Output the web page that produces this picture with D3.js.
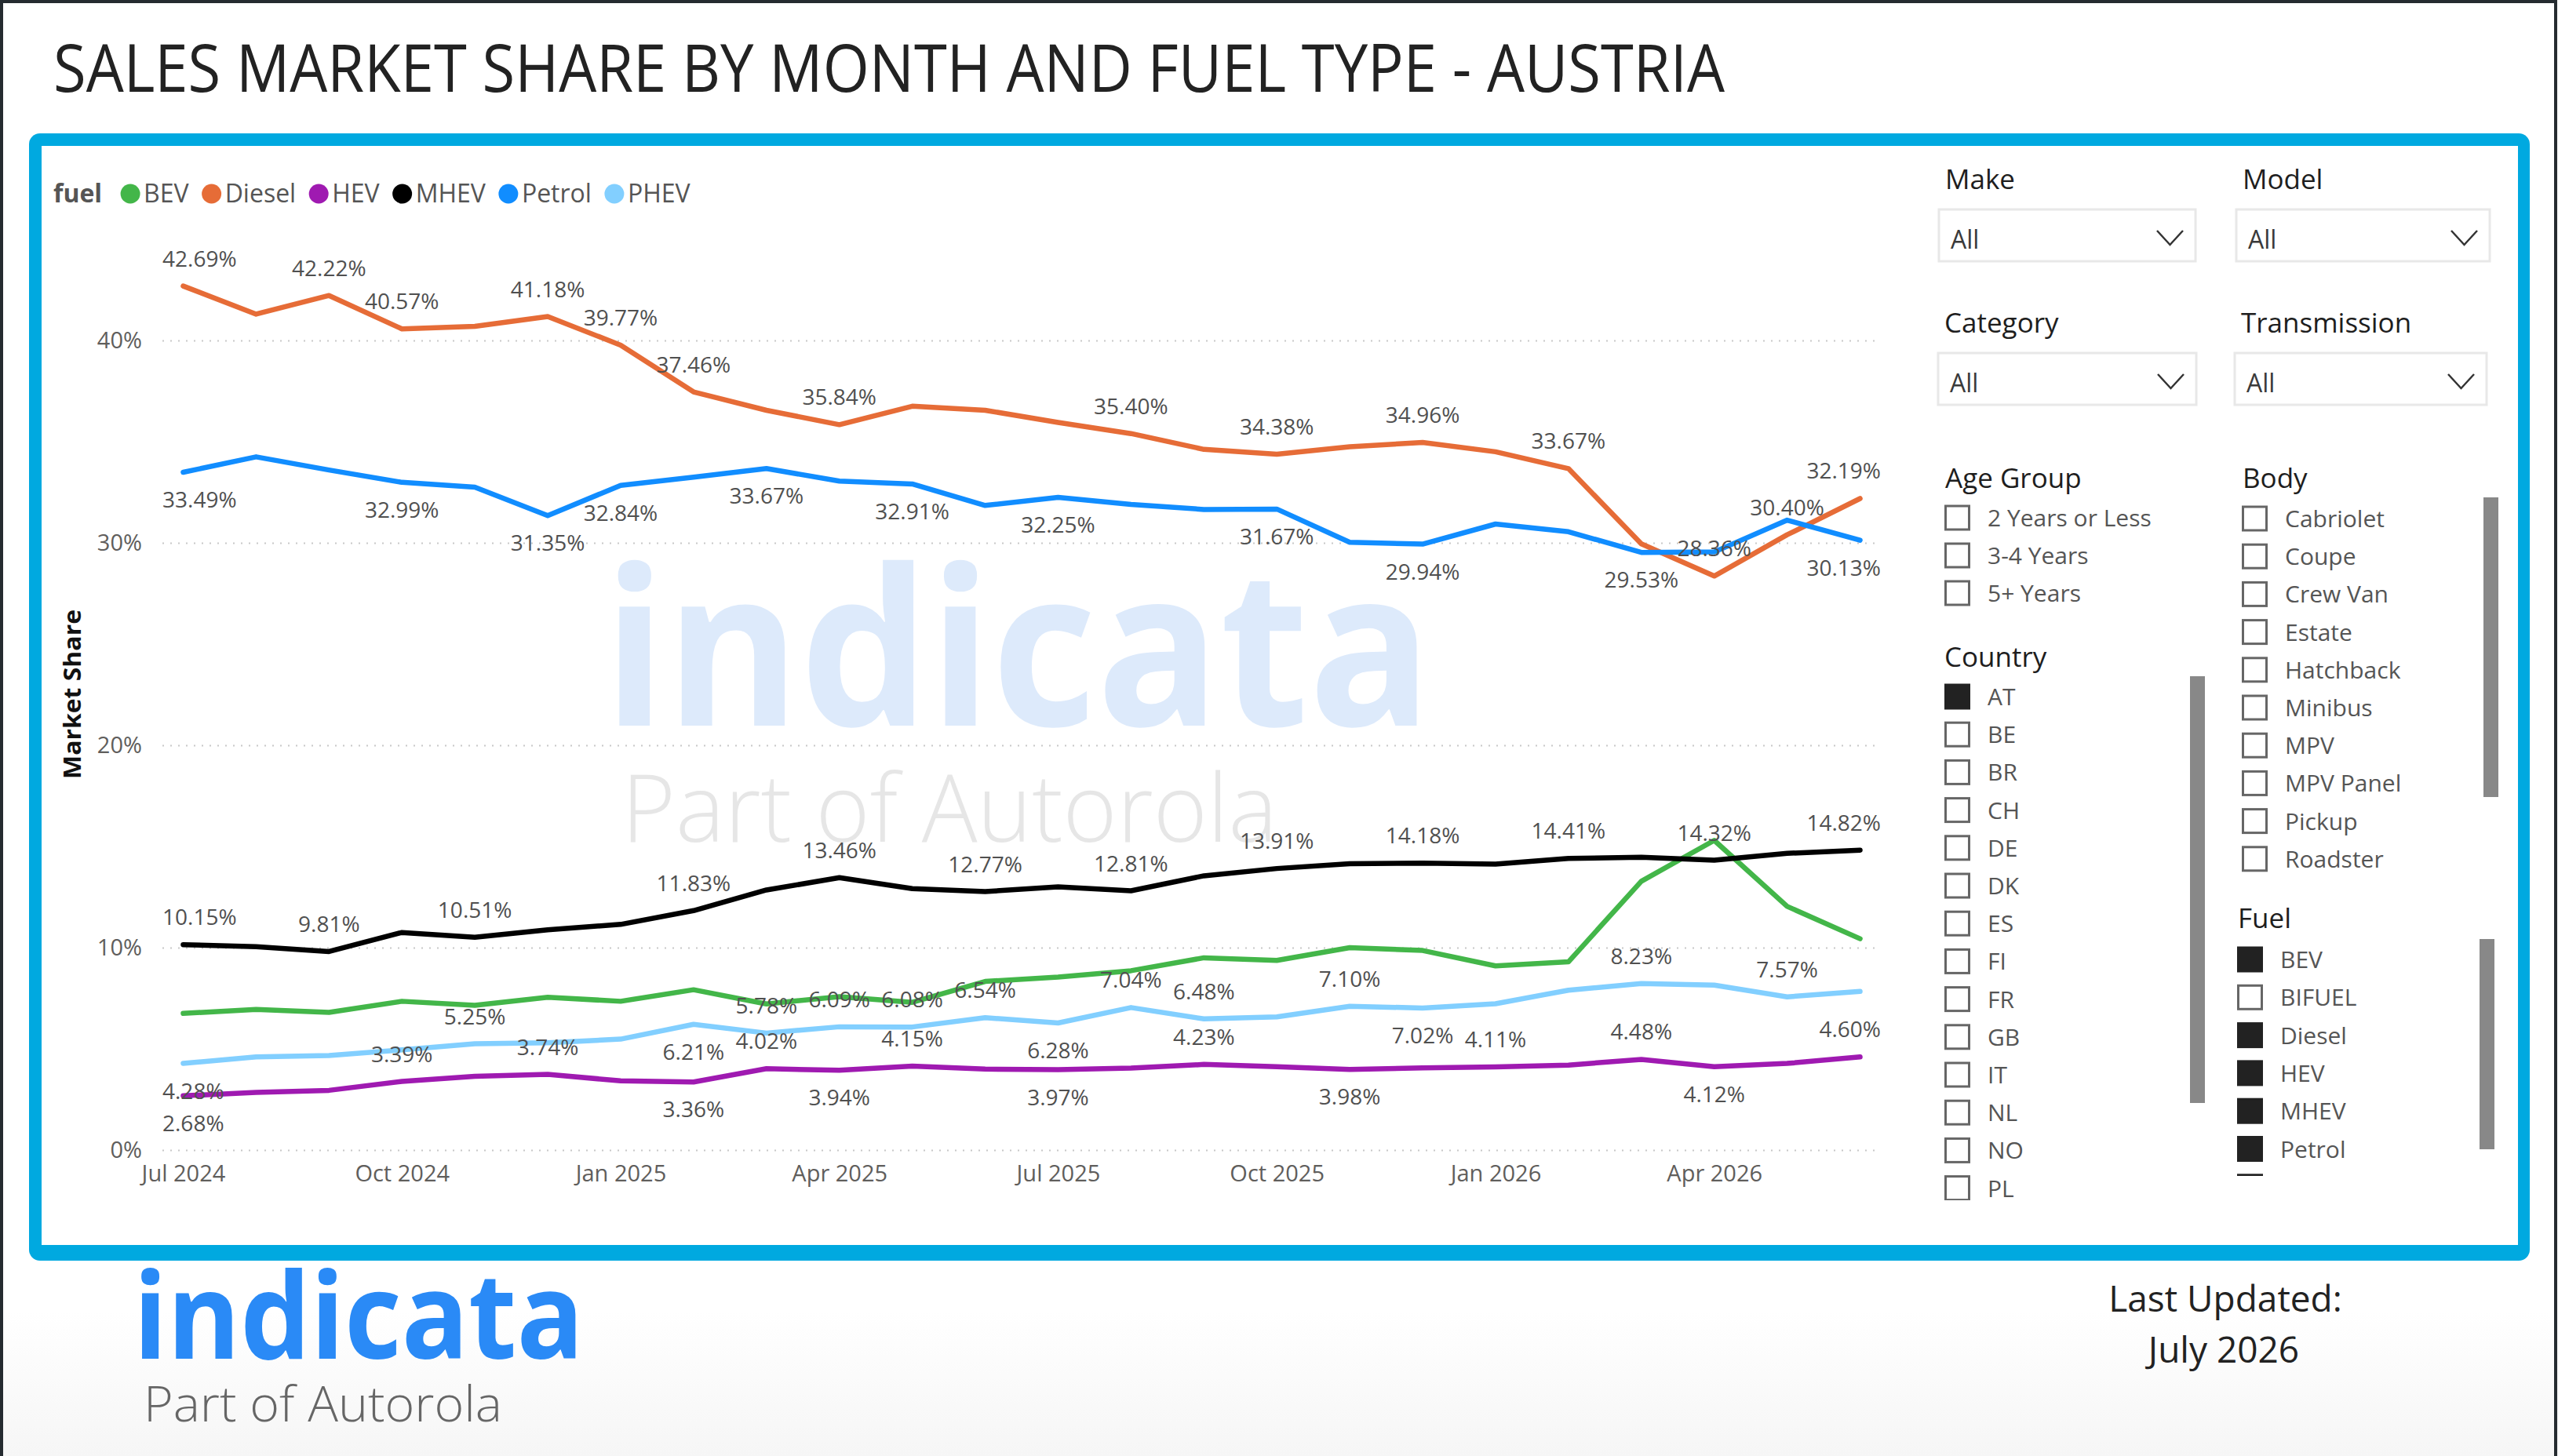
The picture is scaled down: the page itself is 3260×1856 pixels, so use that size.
<!DOCTYPE html>
<html>
<head>
<meta charset="utf-8">
<script src="https://cdn.jsdelivr.net/npm/d3@7"></script>
<style>
  body { margin: 0; background: #fff; }
  text { font-family: 'Open Sans', sans-serif; }
</style>
</head>
<body>
<div id="wrapper"></div>
<script>
// Data (market share, %)
const months = [
  'Jul 2024', 'Aug 2024', 'Sep 2024', 'Oct 2024', 'Nov 2024', 'Dec 2024',
  'Jan 2025', 'Feb 2025', 'Mar 2025', 'Apr 2025', 'May 2025', 'Jun 2025',
  'Jul 2025', 'Aug 2025', 'Sep 2025', 'Oct 2025', 'Nov 2025', 'Dec 2025',
  'Jan 2026', 'Feb 2026', 'Mar 2026', 'Apr 2026', 'May 2026', 'Jun 2026',
];
const tickLabels = ['Jul 2024', 'Oct 2024', 'Jan 2025', 'Apr 2025', 'Jul 2025', 'Oct 2025', 'Jan 2026', 'Apr 2026'];
const yTicks = [0, 10, 20, 30, 40];

const fuels = ['BEV', 'Diesel', 'HEV', 'MHEV', 'Petrol', 'PHEV'];
const bev = [6.75, 6.95, 6.8, 7.35, 7.15, 7.55, 7.35, 7.92, 7.22, 7.58, 7.3, 8.33, 8.55, 8.86, 9.5, 9.37, 10.0, 9.86, 9.1, 9.3, 13.28, 15.3, 12.04, 10.44];
const diesel = [42.69, 41.3, 42.22, 40.57, 40.7, 41.18, 39.77, 37.46, 36.55, 35.84, 36.75, 36.55, 35.95, 35.40, 34.62, 34.38, 34.75, 34.96, 34.5, 33.67, 29.95, 28.36, 30.40, 32.19];
const hev = [2.68, 2.85, 2.95, 3.39, 3.64, 3.74, 3.42, 3.36, 4.02, 3.94, 4.15, 4.0, 3.97, 4.05, 4.23, 4.12, 3.98, 4.06, 4.11, 4.2, 4.48, 4.12, 4.28, 4.60];
const mhev = [10.15, 10.05, 9.81, 10.75, 10.51, 10.88, 11.15, 11.83, 12.85, 13.46, 12.92, 12.77, 13.0, 12.81, 13.55, 13.91, 14.15, 14.18, 14.13, 14.41, 14.47, 14.32, 14.66, 14.82];
const petrol = [33.49, 34.25, 33.6, 32.99, 32.75, 31.35, 32.84, 33.25, 33.67, 33.05, 32.91, 31.85, 32.25, 31.9, 31.65, 31.67, 30.03, 29.94, 30.93, 30.55, 29.53, 29.55, 31.12, 30.13];
const phev = [4.28, 4.6, 4.67, 4.95, 5.25, 5.3, 5.48, 6.21, 5.78, 6.09, 6.08, 6.54, 6.28, 7.04, 6.48, 6.58, 7.10, 7.02, 7.23, 7.9, 8.23, 8.15, 7.57, 7.84];

// which points carry a data label (a = above, b = below)
const dieselLabels = [[0,'a'],[2,'a'],[3,'a'],[5,'a'],[6,'a'],[7,'a'],[9,'a'],[13,'a'],[15,'a'],[17,'a'],[19,'a'],[21,'a'],[22,'a'],[23,'a']];
const petrolLabels = [[0,'b'],[3,'b'],[5,'b'],[6,'b'],[8,'b'],[10,'b'],[12,'b'],[15,'b'],[17,'b'],[20,'b'],[23,'b']];
const mhevLabels = [[0,'a'],[2,'a'],[4,'a'],[7,'a'],[9,'a'],[11,'a'],[13,'a'],[15,'a'],[17,'a'],[19,'a'],[21,'a'],[23,'a']];
const phevLabels = [[0,'b'],[4,'a'],[7,'b'],[8,'a'],[9,'a'],[10,'a'],[11,'a'],[12,'b'],[13,'a'],[14,'a'],[16,'a'],[17,'b'],[20,'a'],[22,'a']];
const hevLabels = [[0,'b'],[3,'a'],[5,'a'],[7,'b'],[8,'a'],[9,'b'],[10,'a'],[12,'b'],[14,'a'],[16,'b'],[18,'a'],[20,'a'],[21,'b'],[23,'a']];

// slicer contents
const ageGroups = ['2 Years or Less', '3-4 Years', '5+ Years'];
const bodies = ['Cabriolet', 'Coupe', 'Crew Van', 'Estate', 'Hatchback', 'Minibus', 'MPV', 'MPV Panel', 'Pickup', 'Roadster'];
const countries = ['AT', 'BE', 'BR', 'CH', 'DE', 'DK', 'ES', 'FI', 'FR', 'GB', 'IT', 'NL', 'NO', 'PL'];
const countrySelected = ['AT'];
const fuelList = ['BEV', 'BIFUEL', 'Diesel', 'HEV', 'MHEV', 'Petrol', 'PHEV'];
const fuelSelected = ['BEV', 'Diesel', 'HEV', 'MHEV', 'Petrol', 'PHEV'];

function drawReport() {
  const dimensions = {
    width: 3260,
    height: 1856,
    plot: { left: 207, right: 2397, top: 434, bottom: 1466 },
  };

  const series = [
    { name: 'BEV', values: bev, color: '#43b649', labels: [] },
    { name: 'Diesel', values: diesel, color: '#e66c37', labels: dieselLabels },
    { name: 'HEV', values: hev, color: '#9f1ab1', labels: hevLabels },
    { name: 'MHEV', values: mhev, color: '#000000', labels: mhevLabels },
    { name: 'Petrol', values: petrol, color: '#118dff', labels: petrolLabels },
    { name: 'PHEV', values: phev, color: '#82cfff', labels: phevLabels },
  ];

  const wrapper = d3
    .select('#wrapper')
    .append('svg')
    .attr('width', dimensions.width)
    .attr('height', dimensions.height);

  // Page background, dark screenshot edge on left/top/right, faint grey at the bottom
  const grad = wrapper.append('defs').append('linearGradient')
    .attr('id', 'page-fade').attr('x1', 0).attr('y1', 0).attr('x2', 0).attr('y2', 1);
  grad.append('stop').attr('offset', '0.9').attr('stop-color', '#ffffff');
  grad.append('stop').attr('offset', '1').attr('stop-color', '#f6f6f6');
  wrapper.append('rect')
    .attr('width', dimensions.width).attr('height', dimensions.height)
    .attr('fill', 'url(#page-fade)');
  wrapper.append('path')
    .attr('d', `M2,${dimensions.height} V2 H${dimensions.width - 3} V${dimensions.height}`)
    .attr('fill', 'none')
    .attr('stroke', '#252b30')
    .attr('stroke-width', 4);

  wrapper.append('text')
    .attr('x', 68).attr('y', 117)
    .attr('font-family', 'Roboto')
    .attr('font-weight', 400)
    .attr('font-size', 84)
    .attr('fill', '#222')
    .attr('textLength', 2130)
    .attr('lengthAdjust', 'spacingAndGlyphs')
    .text('SALES MARKET SHARE BY MONTH AND FUEL TYPE - AUSTRIA');

  wrapper.append('rect')
    .attr('x', 37).attr('y', 170)
    .attr('width', 3187).attr('height', 1437)
    .attr('rx', 14)
    .attr('fill', '#00a9e0');
  wrapper.append('rect')
    .attr('x', 53).attr('y', 186)
    .attr('width', 3156).attr('height', 1401)
    .attr('fill', '#fff');

  // Scales
  const xScale = d3.scalePoint()
    .domain(months)
    .range([dimensions.plot.left, dimensions.plot.right])
    .padding(0.285);

  const yScale = d3.scaleLinear()
    .domain([0, 40])
    .range([dimensions.plot.bottom, dimensions.plot.top]);

  const bounds = wrapper.append('g');

  // Watermark
  bounds.append('text')
    .attr('x', 769).attr('y', 925)
    .attr('font-family', 'Lato').attr('font-weight', 700)
    .attr('font-size', 278)
    .attr('fill', '#ddeafb')
    .attr('textLength', 1056).attr('lengthAdjust', 'spacingAndGlyphs')
    .text('indicata');
  bounds.append('text')
    .attr('x', 792).attr('y', 1073)
    .attr('font-family', 'Lato').attr('font-weight', 300)
    .attr('font-size', 120)
    .attr('fill', '#e6e6e6')
    .attr('textLength', 836).attr('lengthAdjust', 'spacingAndGlyphs')
    .text('Part of Autorola');

  // Y axis with dotted gridlines
  const yAxis = d3.axisLeft(yScale)
    .tickValues(yTicks)
    .tickFormat((d) => d + '%')
    .tickSize(-(dimensions.plot.right - dimensions.plot.left))
    .tickPadding(26);
  const yAxisGroup = bounds.append('g')
    .attr('id', 'y-axis')
    .attr('transform', `translate(${dimensions.plot.left}, 0)`)
    .call(yAxis);
  yAxisGroup.select('.domain').remove();
  yAxisGroup.selectAll('line')
    .attr('stroke', '#c8c8c8')
    .attr('stroke-width', 2)
    .attr('stroke-dasharray', '2,8');
  yAxisGroup.selectAll('text')
    .attr('font-size', 29)
    .attr('fill', '#605e5c')
    .attr('font-family', 'Open Sans');

  // X axis
  const xAxis = d3.axisBottom(xScale)
    .tickValues(months.filter((m) => tickLabels.includes(m)))
    .tickSize(0)
    .tickPadding(19);
  const xAxisGroup = bounds.append('g')
    .attr('id', 'x-axis')
    .attr('transform', `translate(0, ${dimensions.plot.bottom})`)
    .call(xAxis);
  xAxisGroup.select('.domain').remove();
  xAxisGroup.selectAll('text')
    .attr('font-size', 29)
    .attr('fill', '#605e5c')
    .attr('font-family', 'Open Sans');

  // Axis title
  bounds.append('text')
    .attr('transform', 'translate(103, 885) rotate(-90)')
    .attr('text-anchor', 'middle')
    .attr('font-size', 31)
    .attr('font-weight', 700)
    .attr('fill', '#111')
    .attr('textLength', 216)
    .attr('lengthAdjust', 'spacingAndGlyphs')
    .text('Market Share');

  // Lines
  const lineGenerator = d3.line()
    .x((d, i) => xScale(months[i]))
    .y((d) => yScale(d));

  bounds.selectAll('.series')
    .data(series)
    .enter()
    .append('path')
    .attr('class', 'series')
    .attr('d', (d) => lineGenerator(d.values))
    .attr('fill', 'none')
    .attr('stroke', (d) => d.color)
    .attr('stroke-width', 6.5)
    .attr('stroke-linejoin', 'round')
    .attr('stroke-linecap', 'round');

  // Data labels, kept inside the plot area
  const labelData = [];
  series.forEach((s) => {
    s.labels.forEach(([i, pos]) => {
      labelData.push({ value: s.values[i], x: xScale(months[i]), y: yScale(s.values[i]), pos });
    });
  });
  const labels = bounds.selectAll('.data-label')
    .data(labelData)
    .enter()
    .append('text')
    .attr('class', 'data-label')
    .attr('font-size', 28)
    .attr('fill', '#505050')
    .attr('text-anchor', 'middle')
    .attr('y', (d) => (d.pos === 'a' ? d.y - 25 : d.y + 45))
    .text((d) => d.value.toFixed(2) + '%');
  labels.attr('x', function (d) {
    const half = this.getComputedTextLength() / 2;
    return Math.max(dimensions.plot.left + half, Math.min(dimensions.plot.right - half, d.x));
  });

  // Legend
  const legend = wrapper.append('g').attr('transform', 'translate(68, 258)');
  const legendTitle = legend.append('text')
    .attr('font-size', 32)
    .attr('font-weight', 700)
    .attr('fill', '#555')
    .text('fuel');
  let cursor = legendTitle.node().getComputedTextLength() + 24;
  series.forEach((s) => {
    legend.append('circle')
      .attr('cx', cursor + 12)
      .attr('cy', -11)
      .attr('r', 12.5)
      .attr('fill', s.color);
    const t = legend.append('text')
      .attr('x', cursor + 29)
      .attr('font-size', 32)
      .attr('fill', '#555')
      .text(s.name);
    cursor += 29 + t.node().getComputedTextLength() + 17;
  });

  // Slicers
  const slicers = wrapper.append('g');
  const header = (x, y, txt) => slicers.append('text')
    .attr('x', x).attr('y', y)
    .attr('font-family', 'Roboto').attr('font-weight', 500)
    .attr('font-size', 35)
    .attr('fill', '#1e1e1e')
    .text(txt);

  const dropdown = (x, y, w, title) => {
    header(x + 8, y - 26, title);
    slicers.append('rect')
      .attr('x', x).attr('y', y)
      .attr('width', w).attr('height', 66)
      .attr('fill', '#fff')
      .attr('stroke', '#e8e8e8')
      .attr('stroke-width', 3);
    slicers.append('text')
      .attr('x', x + 15).attr('y', y + 50)
      .attr('font-size', 32)
      .attr('fill', '#3a3a3a')
      .text('All');
    const cx = x + w - 49;
    const cy = y + 36;
    slicers.append('path')
      .attr('d', `M${cx},${cy - 9} L${cx + 16.5},${cy + 9} L${cx + 33},${cy - 9}`)
      .attr('fill', 'none')
      .attr('stroke', '#333')
      .attr('stroke-width', 2.5);
  };
  dropdown(2471, 267, 327, 'Make');
  dropdown(2850, 267, 323, 'Model');
  dropdown(2470, 450, 329, 'Category');
  dropdown(2848, 450, 321, 'Transmission');

  let clipCount = 0;
  const checklist = (x, firstY, step, items, selected, clipBottom) => {
    const id = 'clip' + clipCount++;
    wrapper.append('clipPath').attr('id', id)
      .append('rect')
      .attr('x', x - 5).attr('y', firstY - 40)
      .attr('width', 330).attr('height', clipBottom - firstY + 40);
    const g = slicers.append('g').attr('clip-path', `url(#${id})`);
    items.forEach((item, i) => {
      const cy = firstY + i * step;
      const on = selected.includes(item);
      g.append('rect')
        .attr('x', x + 1.5).attr('y', cy - 15)
        .attr('width', 30).attr('height', 30)
        .attr('fill', on ? '#222' : 'none')
        .attr('stroke', on ? '#222' : '#666')
        .attr('stroke-width', 3);
      g.append('text')
        .attr('x', x + 55).attr('y', cy + 11)
        .attr('font-size', 30)
        .attr('fill', '#555')
        .text(item);
    });
  };

  header(2479, 622, 'Age Group');
  checklist(2478, 660, 48, ageGroups, [], 800);
  header(2858, 622, 'Body');
  checklist(2857, 661, 48.2, bodies, [], 1130);
  header(2478, 850, 'Country');
  checklist(2478, 888, 48.2, countries, countrySelected, 1530);
  header(2852, 1183, 'Fuel');
  checklist(2851, 1223, 48.3, fuelList, fuelSelected, 1499);

  // scrollbars
  [[3165, 634, 382], [2791, 862, 544], [3160, 1197, 268]].forEach(([x, y, h]) => {
    slicers.append('rect')
      .attr('x', x).attr('y', y)
      .attr('width', 19).attr('height', h)
      .attr('fill', '#888');
  });

  // Footer
  wrapper.append('text')
    .attr('x', 170).attr('y', 1732)
    .attr('font-family', 'Lato').attr('font-weight', 700)
    .attr('font-size', 152)
    .attr('fill', '#2a8af6')
    .attr('textLength', 574).attr('lengthAdjust', 'spacingAndGlyphs')
    .text('indicata');
  wrapper.append('text')
    .attr('x', 183).attr('y', 1812)
    .attr('font-family', 'Lato').attr('font-weight', 300)
    .attr('font-size', 63)
    .attr('fill', '#666')
    .attr('textLength', 457).attr('lengthAdjust', 'spacingAndGlyphs')
    .text('Part of Autorola');
  wrapper.append('text')
    .attr('x', 2836).attr('y', 1672)
    .attr('text-anchor', 'middle')
    .attr('font-size', 46)
    .attr('fill', '#222')
    .text('Last Updated:');
  wrapper.append('text')
    .attr('x', 2834).attr('y', 1737)
    .attr('text-anchor', 'middle')
    .attr('font-size', 46)
    .attr('fill', '#222')
    .text('July 2026');
}

drawReport();
</script>
</body>
</html>
